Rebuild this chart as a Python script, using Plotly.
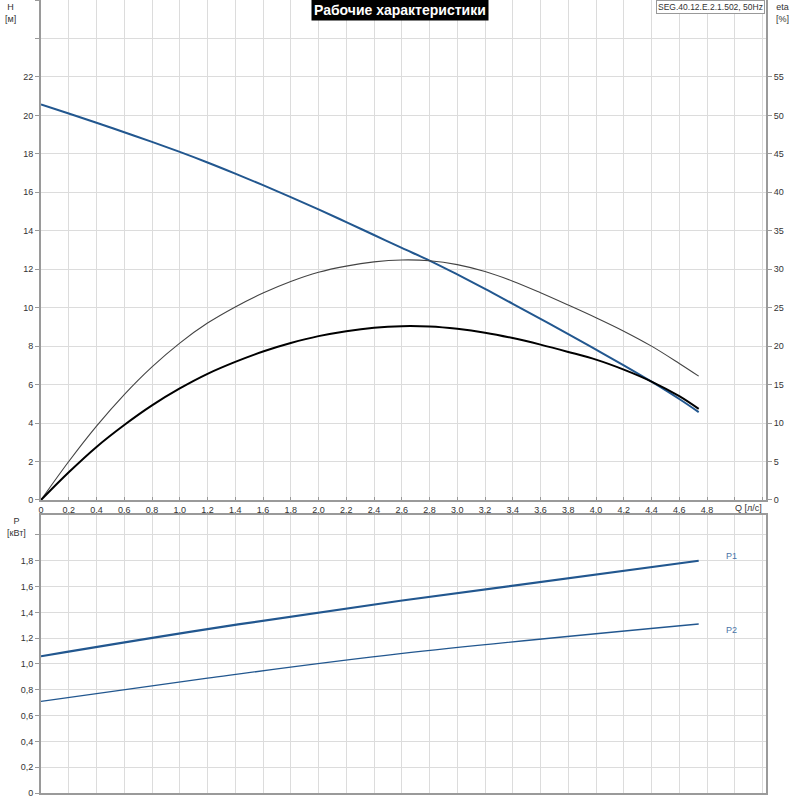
import plotly.graph_objects as go

# ---------------- data ----------------
q_pts = [0, 0.2, 0.4, 0.6, 0.8, 1.0, 1.2, 1.4, 1.6, 1.8, 2.0, 2.2, 2.4, 2.6, 2.8,
         3.0, 3.2, 3.4, 3.6, 3.8, 4.0, 4.2, 4.4, 4.6, 4.74]
head_m = [20.57, 20.1, 19.62, 19.12, 18.62, 18.1, 17.55, 16.97, 16.37, 15.75, 15.11,
          14.45, 13.78, 13.11, 12.45, 11.73, 10.98, 10.2, 9.42, 8.63, 7.82, 7.0, 6.15, 5.25, 4.57]
eta_thin = [0, 5.0, 9.6, 13.7, 17.3, 20.4, 23.0, 25.1, 26.9, 28.4, 29.6, 30.4, 30.95,
            31.2, 31.1, 30.6, 29.7, 28.45, 26.95, 25.35, 23.7, 21.95, 20.0, 17.75, 16.1]
eta_thick = [0, 3.6, 6.9, 9.75, 12.3, 14.5, 16.4, 17.95, 19.3, 20.4, 21.3, 21.95, 22.4,
             22.6, 22.55, 22.25, 21.75, 21.05, 20.2, 19.25, 18.25, 16.95, 15.4, 13.5, 11.85]
q_pow = [0, 1.2, 2.59, 4.74]
p1_kw = [1.06, 1.27, 1.49, 1.80]
p2_kw = [0.71, 0.89, 1.08, 1.31]

x_tickvals = [round(0.2 * i, 1) for i in range(27)]
x_ticktext = ["0", "0,2", "0,4", "0,6", "0,8", "1,0", "1,2", "1,4", "1,6", "1,8", "2,0",
              "2,2", "2,4", "2,6", "2,8", "3,0", "3,2", "3,4", "3,6", "3,8", "4,0", "4,2",
              "4,4", "4,6", "4,8", "", ""]
h_tickvals = list(range(0, 27, 2))
h_ticktext = [str(v) for v in range(0, 23, 2)] + ["", ""]
eta_tickvals = list(range(0, 56, 5))
eta_ticktext = [str(v) for v in eta_tickvals]
p_tickvals = [round(0.2 * i, 1) for i in range(11)]
p_ticktext = ["0", "0,2", "0,4", "0,6", "0,8", "1,0", "1,2", "1,4", "1,6", "1,8", ""]

# ---------------- styles ----------------
BLUE = "#22578f"
GRID = "#dcdcdc"
AXIS = "#9a9a9a"
FONT = "Liberation Sans, Arial, sans-serif"
TICKFONT = dict(family=FONT, size=9, color="#333333")

fig = go.Figure()
fig.add_trace(go.Scatter(x=q_pts, y=eta_thin, mode="lines", yaxis="y2", xaxis="x",
                         line=dict(color="#444444", width=1.1, shape="spline"), showlegend=False))
fig.add_trace(go.Scatter(x=q_pts, y=eta_thick, mode="lines", yaxis="y2", xaxis="x",
                         line=dict(color="#000000", width=2, shape="spline"), showlegend=False))
fig.add_trace(go.Scatter(x=q_pts, y=head_m, mode="lines", yaxis="y", xaxis="x",
                         line=dict(color=BLUE, width=2, shape="spline"), showlegend=False))
fig.add_trace(go.Scatter(x=q_pow, y=p1_kw, mode="lines", yaxis="y3", xaxis="x3",
                         line=dict(color=BLUE, width=2.2, shape="spline"), showlegend=False))
fig.add_trace(go.Scatter(x=q_pow, y=p2_kw, mode="lines", yaxis="y3", xaxis="x3",
                         line=dict(color=BLUE, width=1.3, shape="spline"), showlegend=False))

xr = [0, 5.225]
top_dom = [0.3695, 1.0]
bot_dom = [0.0, 0.3506]

fig.update_layout(
    width=800, height=800,
    margin=dict(l=41, r=34, t=0, b=7, autoexpand=False),
    paper_bgcolor="white", plot_bgcolor="white",
    font=dict(family=FONT, size=9, color="#333333"),
    xaxis=dict(domain=[0, 1], anchor="y", range=xr, tickvals=x_tickvals, ticktext=x_ticktext,
               showgrid=True, gridcolor=GRID, gridwidth=1, zeroline=False, automargin=False,
               showline=True, linecolor=AXIS, linewidth=2, ticks="inside", ticklen=3,
               tickcolor=AXIS, tickfont=TICKFONT),
    yaxis=dict(domain=top_dom, anchor="x", range=[0, 26], tickvals=h_tickvals, ticktext=h_ticktext,
               showgrid=True, gridcolor=GRID, gridwidth=1, zeroline=False, automargin=False,
               showline=True, linecolor=AXIS, linewidth=2, ticks="outside", ticklen=4,
               tickcolor=AXIS, tickfont=TICKFONT),
    yaxis2=dict(overlaying="y", side="right", anchor="x", range=[0, 65], tickvals=eta_tickvals,
                ticktext=eta_ticktext, showgrid=False, zeroline=False, automargin=False,
                showline=True, linecolor=AXIS, linewidth=2, ticks="outside", ticklen=4,
                tickcolor=AXIS, tickfont=TICKFONT),
    xaxis3=dict(domain=[0, 1], anchor="y3", range=xr, tickvals=x_tickvals, showticklabels=False,
                showgrid=True, gridcolor=GRID, gridwidth=1, zeroline=False, automargin=False,
                showline=True, linecolor=AXIS, linewidth=1.5, mirror=True, ticks=""),
    yaxis3=dict(domain=bot_dom, anchor="x3", range=[0, 2.155], tickvals=p_tickvals,
                ticktext=p_ticktext, showgrid=True, gridcolor=GRID, gridwidth=1, zeroline=False,
                showline=True, linecolor=AXIS, linewidth=2, mirror=True, ticks="outside",
                automargin=False, ticklen=4, tickcolor=AXIS, tickfont=TICKFONT),
)

# convert pixel-based positions to paper coords
def px(xp):
    return (xp - 41) / (800 - 41 - 34)
def py(yp):
    return (793 - yp) / 793

LBL = dict(family=FONT, size=9, color="#333333")
ann = [
    dict(text="<b>Рабочие характеристики</b>", x=px(400), y=py(10), xref="paper", yref="paper",
         showarrow=False, font=dict(family=FONT, size=14, color="white"),
         bgcolor="black", borderpad=2, xanchor="center", yanchor="middle"),
    dict(text="SEG.40.12.E.2.1.502, 50Hz", x=px(765), y=py(0), xref="paper", yref="paper",
         showarrow=False, font=dict(family=FONT, size=8.5, color="#333333"),
         bgcolor="white", bordercolor="#999999", borderwidth=1, borderpad=1,
         xanchor="right", yanchor="top"),
    dict(text="H<br>[м]", x=px(10), y=py(0), xref="paper", yref="paper", showarrow=False,
         font=LBL, xanchor="center", yanchor="top", align="center"),
    dict(text="eta<br>[%]", x=px(783), y=py(0), xref="paper", yref="paper", showarrow=False,
         font=LBL, xanchor="center", yanchor="top", align="center"),
    dict(text="P<br>[кВт]", x=px(16), y=py(514), xref="paper", yref="paper", showarrow=False,
         font=LBL, xanchor="center", yanchor="top", align="center"),
    dict(text="Q [л/с]", x=px(764), y=py(508), xref="paper", yref="paper", showarrow=False,
         font=LBL, xanchor="right", yanchor="middle"),
    dict(text="P1", x=px(731), y=py(556), xref="paper", yref="paper", showarrow=False,
         font=dict(family=FONT, size=9, color="#4a74a8"), xanchor="center", yanchor="middle"),
    dict(text="P2", x=px(731), y=py(630), xref="paper", yref="paper", showarrow=False,
         font=dict(family=FONT, size=9, color="#4a74a8"), xanchor="center", yanchor="middle"),
]
fig.update_layout(annotations=ann)

fig.write_html("out.html", config={"displayModeBar": False},
               post_script="document.body.style.margin='0';")
